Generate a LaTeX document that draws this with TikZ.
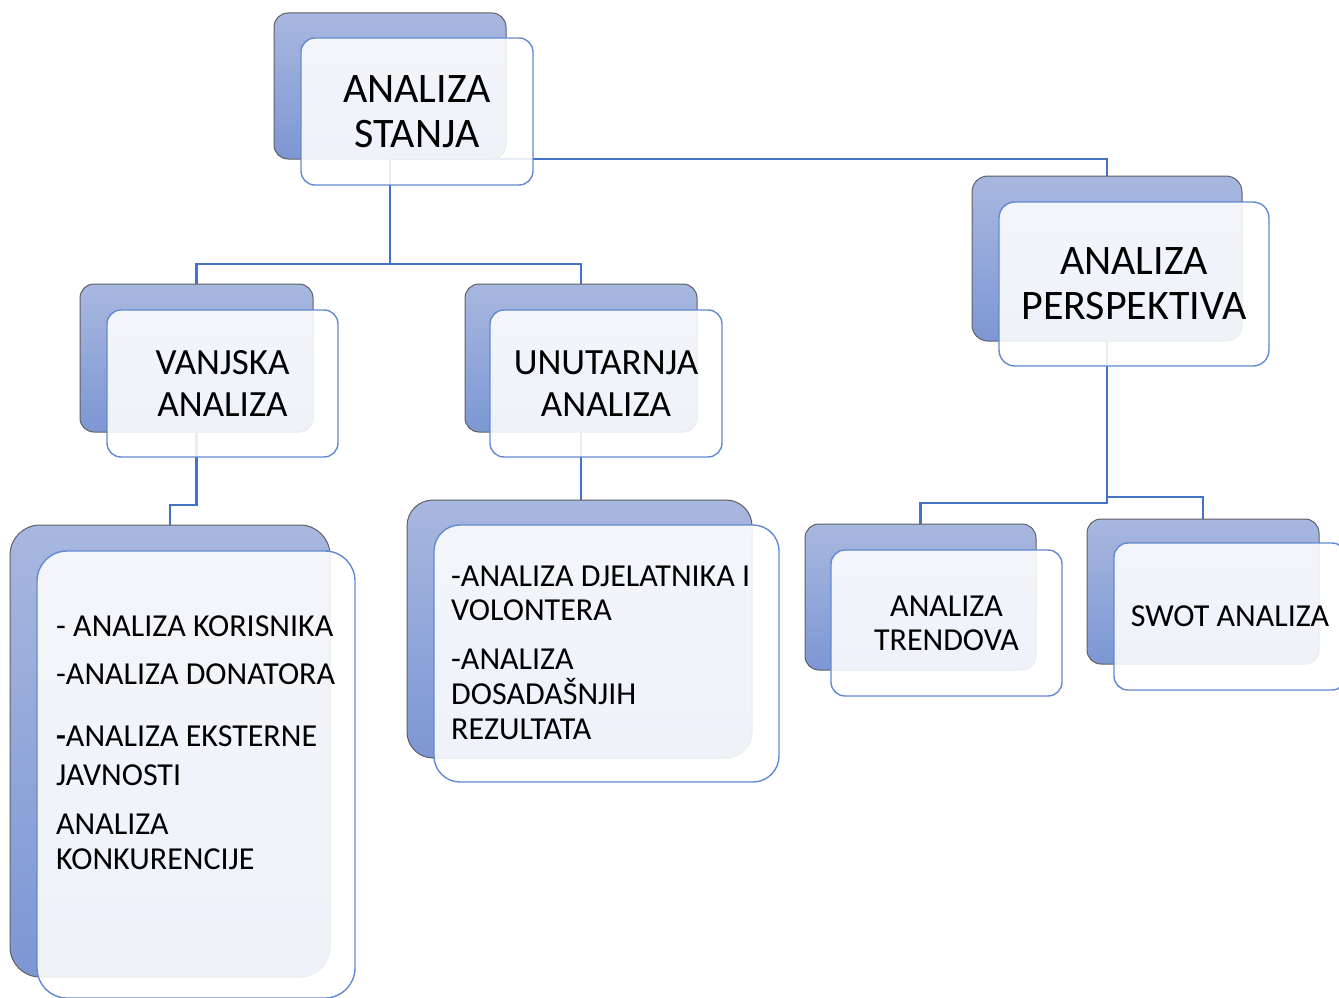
\documentclass[tikz,border=0pt]{standalone}
\usepackage{fontspec}
\setmainfont{Carlito}
\usetikzlibrary{backgrounds}
\definecolor{bktop}{RGB}{168,183,223}
\definecolor{bkbot}{RGB}{125,151,212}
\definecolor{bkline}{RGB}{95,95,100}
\definecolor{frline}{RGB}{98,138,208}
\definecolor{lnblue}{RGB}{68,114,196}
\begin{document}
\begin{tikzpicture}[x=1pt, y=-1pt,
  back/.style={draw=bkline, line width=1pt, rounded corners=14pt, top color=bktop, bottom color=bkbot, inner sep=0pt, outer sep=0pt},
  front/.style={draw=frline, line width=1.4pt, rounded corners=14pt, fill=white, fill opacity=0.88, text opacity=1, inner sep=0pt, outer sep=0pt, align=center},
  conn/.style={draw=lnblue, line width=2.6pt},
  lvlone/.style={font=\fontsize{42}{45}\selectfont},
  lvltwo/.style={font=\fontsize{37}{42}\selectfont},
  lvlthree/.style={font=\fontsize{32}{34}\selectfont},
  item/.style={anchor=base west, inner sep=0pt, font=\fontsize{32}{35}\selectfont}]
\useasboundingbox (0,0) rectangle (1339,998);
% analiza stanja
\node[back, minimum width=232pt, minimum height=146pt] (sb) at (390,86) {};
\node[front, lvlone, minimum width=232pt, minimum height=147pt] (sf) at (417,111.5) {ANALIZA\\STANJA};
% analiza perspektiva
\node[back, minimum width=270pt, minimum height=165pt, rounded corners=16pt] (pb) at (1107,258.5) {};
\node[front, lvlone, minimum width=270pt, minimum height=164pt, rounded corners=16pt] (pf) at (1134,284) {ANALIZA\\PERSPEKTIVA};
% vanjska / unutarnja
\node[back, minimum width=233pt, minimum height=148pt] (vb) at (196.5,358) {};
\node[front, lvltwo, minimum width=231pt, minimum height=147pt] (vf) at (222.5,383.5) {VANJSKA\\ANALIZA};
\node[back, minimum width=232pt, minimum height=148pt] (ub) at (581,358) {};
\node[front, lvltwo, minimum width=232pt, minimum height=147pt] (uf) at (606,383.5) {UNUTARNJA\\ANALIZA};
% liste
\node[back, minimum width=320pt, minimum height=452pt, rounded corners=30pt] (kb) at (170,751) {};
\node[front, minimum width=318pt, minimum height=447pt, rounded corners=30pt] (kf) at (196,774.5) {};
\node[back, minimum width=345pt, minimum height=258pt, rounded corners=26pt] (db) at (579.5,629) {};
\node[front, minimum width=345pt, minimum height=257pt, rounded corners=26pt] (df) at (606.5,653.5) {};
% trendovi / swot
\node[back, minimum width=231pt, minimum height=146pt] (tb) at (920.5,597) {};
\node[front, lvlthree, minimum width=231pt, minimum height=146pt] (tf) at (946.5,623) {ANALIZA\\TRENDOVA};
\node[back, minimum width=232pt, minimum height=145pt] (wb) at (1203,591.5) {};
\node[front, lvlthree, minimum width=232pt, minimum height=147pt] (wf) at (1230,616.5) {SWOT ANALIZA};
% tekst u listama
\node[item] (k1) at (56,636) {- ANALIZA KORISNIKA};
\node[item] (k2) at (56,684) {-ANALIZA DONATORA};
\node[item] (k3) at (56,746) {{\bfseries -}ANALIZA EKSTERNE};
\node[item] (k4) at (56,785) {JAVNOSTI};
\node[item] (k5) at (56,834) {ANALIZA};
\node[item] (k6) at (56,869) {KONKURENCIJE};
\node[item] (d1) at (451,586) {-ANALIZA DJELATNIKA I};
\node[item] (d2) at (451,620) {VOLONTERA};
\node[item] (d3) at (451,669) {-ANALIZA};
\node[item] (d4) at (451,704) {DOSADAŠNJIH};
\node[item] (d5) at (451,739) {REZULTATA};
% veze
\coordinate (j1) at (390,264);
\coordinate (j2) at (170,505);
\coordinate (j3) at (1107,503);
\coordinate (j4) at (1107,497);
\begin{scope}[on background layer]
\draw[conn] (sb.south) -- (j1) -| (vb.north);
\draw[conn] (j1) -| (ub.north);
\draw[conn] (sb.south) |- (390,159) -| (pb.north);
\draw[conn] (vb.south) |- (j2) -- (kb.north);
\draw[conn] (ub.south) -- (ub.south |- db.north);
\draw[conn] (pb.south) -- (j3) -| (tb.north);
\draw[conn] (j4) -| (wb.north);
\end{scope}
\end{tikzpicture}
\end{document}
